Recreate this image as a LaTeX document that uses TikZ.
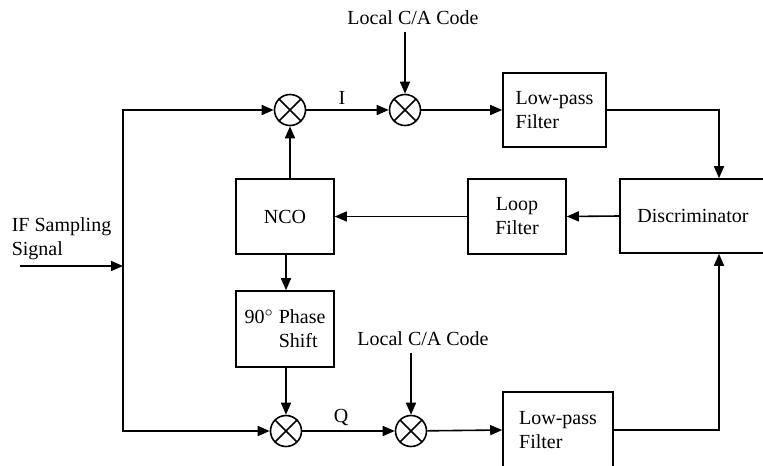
\documentclass[tikz,border=0pt]{standalone}
\usepackage{fontspec}
\setmainfont{Liberation Serif}
\usetikzlibrary{arrows.meta}

\begin{document}
\begin{tikzpicture}[x=0.5pt, y=-0.5pt, line width=0.8pt,
  block/.style={draw, minimum width=49pt, minimum height=37.5pt, align=center, inner sep=2pt},
  mixer/.style={draw, circle, minimum size=15.5pt, inner sep=0pt,
    path picture={\draw (path picture bounding box.north west) -- (path picture bounding box.south east)
      (path picture bounding box.north east) -- (path picture bounding box.south west);}},
  sig/.style={-{Triangle[length=6pt, width=5pt]}}]

  \useasboundingbox (0,0) rectangle (763,465);
  \clip (0,0) rectangle (763,465);

  % Mixers
  \node[mixer] (mixI)  at (290,110) {};
  \node[mixer] (mixIC) at (405,110) {};
  \node[mixer] (mixQ)  at (286,431) {};
  \node[mixer] (mixQC) at (411,431) {};

  % Blocks
  \node[block, minimum width=51.5pt, minimum height=37pt, align=left] (lpfI) at (554.5,110) {Low-pass\\Filter};
  \node[block, minimum width=73pt, minimum height=37pt] (disc) at (693,216) {Discriminator};
  \node[block] (loop)  at (517,216.5) {Loop\\Filter};
  \node[block] (nco)   at (285,216.5) {NCO};
  \node[block, minimum height=38pt, align=left] (phase) at (285,329) {90$^\circ$ Phase\\\hphantom{90$^\circ$} Shift};
  \node[block, minimum width=55pt, minimum height=38pt, align=left] (lpfQ) at (558,430) {Low-pass\\Filter};

  % Labels
  \node (codeI) at (413,18)  {Local C/A Code};
  \node (codeQ) at (423,339) {Local C/A Code};
  \node[anchor=west, align=left, inner sep=0pt] (ifsig) at (11,239) {IF Sampling\\Signal};
  \node (lblI) at (342,98)  {I};
  \node (lblQ) at (341,417) {Q};

  % Input and split
  \coordinate (in)     at (20,266);
  \coordinate (split)  at (123,266);
  \coordinate (codeIin) at (405,32);
  \coordinate (codeQin) at (411,353);

  % Connectors
  \draw[sig] (in) -- (split);
  \draw[sig] (split) |- (mixI.west);
  \draw[sig] (split) |- (mixQ.west);
  \draw[sig] (mixI) -- (mixIC);
  \draw[sig] (mixQ) -- (mixQC);
  \draw[sig] (codeIin) -- (mixIC.north);
  \draw[sig] (codeQin) -- (mixQC.north);
  \draw[sig] (mixIC) -- (lpfI.west);
  \draw[sig] (mixQC) -- (lpfQ.west);
  \draw[sig] (lpfI.east) -| ([xshift=13pt]disc.north);
  \draw[sig] (lpfQ.east) -| ([xshift=13pt]disc.south);
  \draw[sig] (disc.west) -- (loop.east);
  \draw[sig] (loop.west) -- (nco.east);
  \draw[sig] (mixI.south |- nco.north) -- (mixI.south);
  \draw[sig] (mixQ.north |- nco.south) -- (phase.north -| mixQ.north);
  \draw[sig] (mixQ.north |- phase.south) -- (mixQ.north);

\end{tikzpicture}
\end{document}
